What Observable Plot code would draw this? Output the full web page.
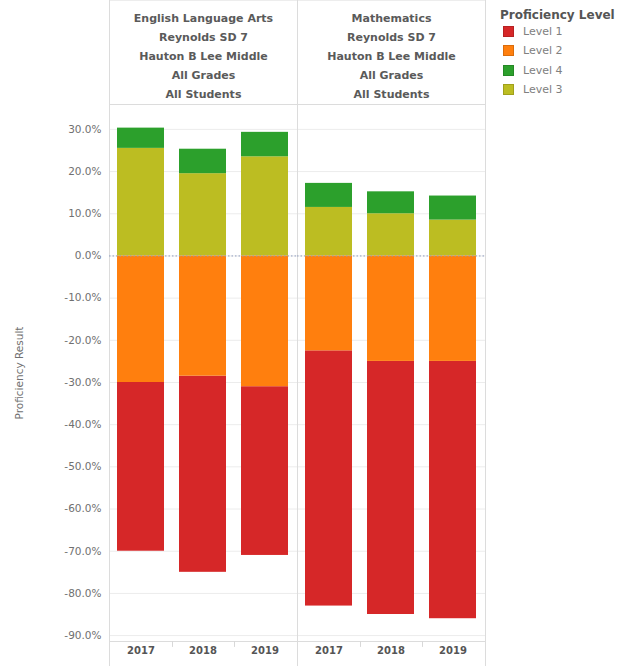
<!DOCTYPE html>
<html>
<head>
<meta charset="utf-8">
<script src="https://cdn.jsdelivr.net/npm/d3@7"></script>
<script src="https://cdn.jsdelivr.net/npm/@observablehq/plot@0.6"></script>
<style>
  body { margin: 0; background: #fff; font-family: "DejaVu Sans", Verdana, sans-serif; }
  #wrap { position: relative; width: 617px; height: 666px; }
  #legend { position: absolute; left: 500px; top: 8px; color: #555; }
  #legend .title { font-weight: bold; font-size: 12px; line-height: 14px; margin-bottom: 0; }
  #legend .row { display: flex; align-items: center; height: 19.3px; margin-left: 3px; font-size: 11px; color: #808080; }
  #legend .sw { width: 11px; height: 11px; margin-right: 9px; border: 1px solid rgba(0,0,0,0.15); box-sizing: border-box; }
</style>
</head>
<body>
<div id="wrap">
  <div id="chart"></div>
  <div id="legend"></div>
</div>
<script>
const subjects = ["English Language Arts", "Mathematics"];
const years = ["2017", "2018", "2019"];
const levels = ["Level 1", "Level 2", "Level 4", "Level 3"];
const levelColors = ["#d62728", "#ff7f0e", "#2ca02c", "#bcbd22"];
const headerLines = ["Reynolds SD 7", "Hauton B Lee Middle", "All Grades", "All Students"];
const yTicks = [-90, -80, -70, -60, -50, -40, -30, -20, -10, 0, 10, 20, 30];
// order: ELA 2017, 2018, 2019, Math 2017, 2018, 2019 (percent)
const level1 = [40, 46.5, 40, 60.5, 60, 61];
const level2 = [30, 28.5, 31, 22.5, 25, 25];
const level3 = [25.5, 19.5, 23.5, 11.5, 10, 8.5];
const level4 = [4.8, 5.8, 5.8, 5.7, 5.2, 5.7];

const rows = [];
subjects.forEach((s, si) => {
  years.forEach((yr, yi) => {
    const i = si * 3 + yi;
    rows.push({subject: s, year: yr, level: "Level 1", value: -level1[i]});
    rows.push({subject: s, year: yr, level: "Level 2", value: -level2[i]});
    rows.push({subject: s, year: yr, level: "Level 3", value: level3[i]});
    rows.push({subject: s, year: yr, level: "Level 4", value: level4[i]});
  });
});

const chart = Plot.plot({
  width: 617,
  height: 666,
  marginLeft: 108,
  marginRight: 132,
  marginTop: 104,
  marginBottom: 25,
  style: {fontFamily: "'DejaVu Sans', Verdana, sans-serif", background: "#fff"},
  fx: {domain: subjects, padding: 0, axis: null},
  x: {domain: years, paddingInner: 0.24, paddingOuter: 0.12},
  y: {domain: [-91.4, 35.9]},
  color: {domain: levels, range: levelColors},
  marks: [
    Plot.gridY(yTicks, {stroke: "#ececec", strokeOpacity: 1}),
    Plot.frame({stroke: "#dcdcdc", insetTop: -104.5, insetBottom: -25.5}),
    Plot.frame({stroke: "#dcdcdc"}),
    Plot.barY(rows, Plot.stackY({
      fx: "subject", x: "year", y: "value", fill: "level",
      order: ["Level 2", "Level 1", "Level 3", "Level 4"]
    })),
    Plot.ruleY([0], {stroke: "#8f9dc0", strokeDasharray: "1.5,2"}),
    Plot.ruleX(["2017", "2018"], {x: d => d, dx: 31.5, y1: -91.4, y2: -92.8, stroke: "#d8d8d8"}),
    Plot.text(subjects, {
      fx: d => d,
      text: d => [d, ...headerLines].join("\n"),
      frameAnchor: "top", lineAnchor: "middle", dy: -51,
      lineHeight: 19 / 11, fontSize: 11, fontWeight: "bold", fill: "#5a5a5a"
    }),
    Plot.axisY(yTicks, {
      tickFormat: d => d.toFixed(1) + "%",
      tickSize: 0, tickPadding: 8, fontSize: 10.5, color: "#707070",
      label: "Proficiency Result", labelAnchor: "center", labelArrow: "none", labelOffset: 94
    }),
    Plot.axisX({
      tickSize: 0, tickPadding: 5, fontSize: 10, fontWeight: "bold", color: "#555", label: null
    })
  ]
});
document.getElementById("chart").appendChild(chart);

const legend = document.getElementById("legend");
const t = document.createElement("div");
t.className = "title";
t.textContent = "Proficiency Level";
legend.appendChild(t);
levels.forEach((lv, i) => {
  const r = document.createElement("div");
  r.className = "row";
  const sw = document.createElement("span");
  sw.className = "sw";
  sw.style.background = levelColors[i];
  const lab = document.createElement("span");
  lab.textContent = lv;
  r.appendChild(sw);
  r.appendChild(lab);
  legend.appendChild(r);
});
</script>
</body>
</html>
